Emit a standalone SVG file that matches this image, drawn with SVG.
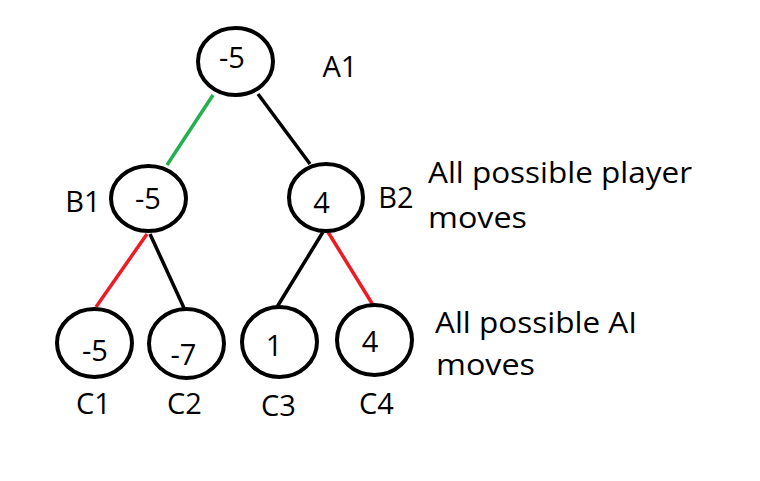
<svg xmlns="http://www.w3.org/2000/svg" width="760" height="481" viewBox="0 0 760 481">
<style>
.node{fill:#fff;stroke:#000;stroke-width:4}
.t{font-family:"Open Sans","Noto Sans",sans-serif;font-size:29px;fill:#000}
.m{text-anchor:middle}
.edge{stroke-width:3.5;fill:none;stroke-linecap:butt}
.k{stroke:#000}
.g{stroke:#22b14c}
.r{stroke:#ed1c24}
</style>
<rect width="760" height="481" fill="#fff"/>
<g id="connectors">
<line class="edge g" x1="213" y1="95" x2="167" y2="165"/>
<line class="edge k" x1="258" y1="94" x2="310" y2="164"/>
<line class="edge r" x1="147" y1="234" x2="96" y2="307"/>
<line class="edge k" x1="150" y1="234" x2="184" y2="308"/>
<line class="edge k" x1="323" y1="232" x2="277" y2="307"/>
<line class="edge r" x1="328" y1="232" x2="373" y2="305"/>
</g>
<g id="A1">
<ellipse class="node" cx="235.5" cy="61.5" rx="37.5" ry="33.5"/>
<text class="t m" x="232" y="68">-5</text>
<text class="t m" x="340" y="77">A1</text>
</g>
<g id="B1">
<ellipse class="node" cx="148.5" cy="198.5" rx="37.5" ry="32.5"/>
<text class="t m" x="148" y="209">-5</text>
<text class="t m" x="83" y="212">B1</text>
</g>
<g id="B2">
<ellipse class="node" cx="326" cy="197.5" rx="37" ry="33.5"/>
<text class="t m" x="321.5" y="213">4</text>
<text class="t m" x="396" y="208">B2</text>
</g>
<g id="C1">
<ellipse class="node" cx="94.5" cy="343" rx="37.5" ry="34"/>
<text class="t m" x="95" y="361">-5</text>
<text class="t m" x="93.5" y="414">C1</text>
</g>
<g id="C2">
<ellipse class="node" cx="186.5" cy="343.5" rx="37.5" ry="34.5"/>
<text class="t m" x="183.5" y="365">-7</text>
<text class="t m" x="184.5" y="414">C2</text>
</g>
<g id="C3">
<ellipse class="node" cx="279.5" cy="342" rx="37.5" ry="35"/>
<text class="t m" x="274" y="356">1</text>
<text class="t m" x="278.5" y="416">C3</text>
</g>
<g id="C4">
<ellipse class="node" cx="374.5" cy="340" rx="37.5" ry="35"/>
<text class="t m" x="370" y="352">4</text>
<text class="t m" x="376.5" y="414">C4</text>
</g>
<g id="labels">
<text class="t" x="428" y="183" textLength="264" lengthAdjust="spacingAndGlyphs">All possible player</text>
<text class="t" x="428" y="228" textLength="99" lengthAdjust="spacingAndGlyphs">moves</text>
<text class="t" x="435" y="333" textLength="202" lengthAdjust="spacingAndGlyphs">All possible AI</text>
<text class="t" x="436" y="375" textLength="99" lengthAdjust="spacingAndGlyphs">moves</text>
</g>
</svg>
